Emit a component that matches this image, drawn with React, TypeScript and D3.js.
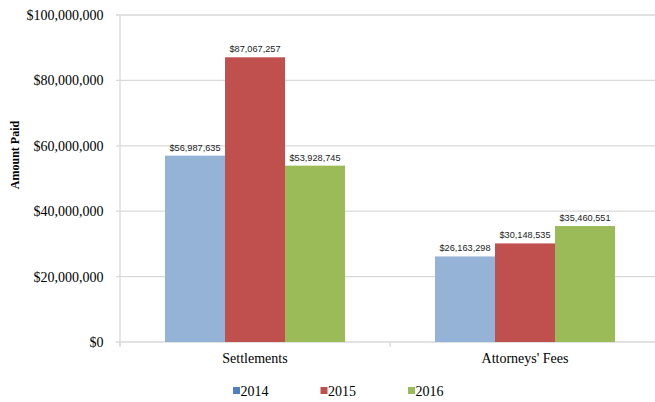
import React from "react";
import { scaleLinear, scaleBand } from "d3";

const categories = ["Settlements", "Attorneys' Fees"];
const years = ["2014", "2015", "2016"];
const values2014 = [56987635, 26163298];
const values2015 = [87067257, 30148535];
const values2016 = [53928745, 35460551];
const yTicks = [0, 20000000, 40000000, 60000000, 80000000, 100000000];

const barColors = ["#95b3d7", "#c0504d", "#9bbb59"];
const legendColors = ["#4f81bd", "#c0504d", "#9bbb59"];

const fmt = (v: number) => "$" + v.toLocaleString("en-US");
const serif = "Liberation Serif, Times New Roman, serif";

export default function App() {
  const width = 655;
  const height = 402;
  const margin = { top: 15, right: -5, bottom: 60, left: 120 };
  const innerWidth = width - margin.left - margin.right;
  const innerHeight = height - margin.top - margin.bottom;

  const series = [values2014, values2015, values2016];

  const xScale = scaleBand().domain(categories).range([0, innerWidth]);
  // bars fill the middle 2/3 of each category band
  const bw = xScale.bandwidth();
  const xInner = scaleBand().domain(years).range([bw / 6, (bw * 5) / 6]);

  const yScale = scaleLinear().domain([0, 100000000]).range([innerHeight, 0]);

  return (
    <svg
      width={width}
      height={height}
      style={{ position: "absolute", left: 0, top: 0, background: "white" }}
    >
      <g transform={`translate(${margin.left},${margin.top})`}>
        {yTicks.map((t) => (
          <g key={t}>
            <line
              x1={-4}
              x2={innerWidth}
              y1={yScale(t)}
              y2={yScale(t)}
              stroke="#d9d9d9"
              strokeWidth={1.3}
            />
            <text
              x={-16.5}
              y={yScale(t)}
              dy="0.35em"
              textAnchor="end"
              fontFamily={serif}
              fontSize={14}
              fill="#000"
            >
              {fmt(t)}
            </text>
          </g>
        ))}
        <line x1={0} x2={0} y1={0} y2={innerHeight + 4} stroke="#d9d9d9" strokeWidth={1.3} />
        {categories.map((c) => (
          <line
            key={"tick" + c}
            x1={xScale(c)!}
            x2={xScale(c)!}
            y1={innerHeight}
            y2={innerHeight + 5}
            stroke="#d9d9d9"
            strokeWidth={1.3}
          />
        ))}
        {categories.map((c, ci) =>
          years.map((y, si) => {
            const v = series[si][ci];
            const x = xScale(c)! + xInner(y)!;
            return (
              <g key={c + y}>
                <rect
                  x={x}
                  y={yScale(v)}
                  width={xInner.bandwidth()}
                  height={innerHeight - yScale(v)}
                  fill={barColors[si]}
                />
                <text
                  x={x + xInner.bandwidth() / 2}
                  y={yScale(v) - 5}
                  textAnchor="middle"
                  fontFamily="Liberation Sans, Arial, sans-serif"
                  fontSize={9.2}
                  fill="#222"
                >
                  {fmt(v)}
                </text>
              </g>
            );
          })
        )}
        {categories.map((c) => (
          <text
            key={"lbl" + c}
            x={xScale(c)! + bw / 2}
            y={innerHeight + 21}
            textAnchor="middle"
            fontFamily={serif}
            fontSize={14}
            fill="#000"
          >
            {c}
          </text>
        ))}
      </g>
      <text
        transform={`translate(19,155) rotate(-90)`}
        textAnchor="middle"
        fontFamily={serif}
        fontWeight="bold"
        fontSize={12}
        fill="#000"
      >
        Amount Paid
      </text>
      {years.map((y, i) => (
        <g key={"leg" + y} transform={`translate(${233 + i * 87.5},0)`}>
          <rect x={0} y={387} width={7} height={7} fill={legendColors[i]} />
          <text x={7.5} y={396} fontFamily={serif} fontSize={14} fill="#000">
            {y}
          </text>
        </g>
      ))}
    </svg>
  );
}
